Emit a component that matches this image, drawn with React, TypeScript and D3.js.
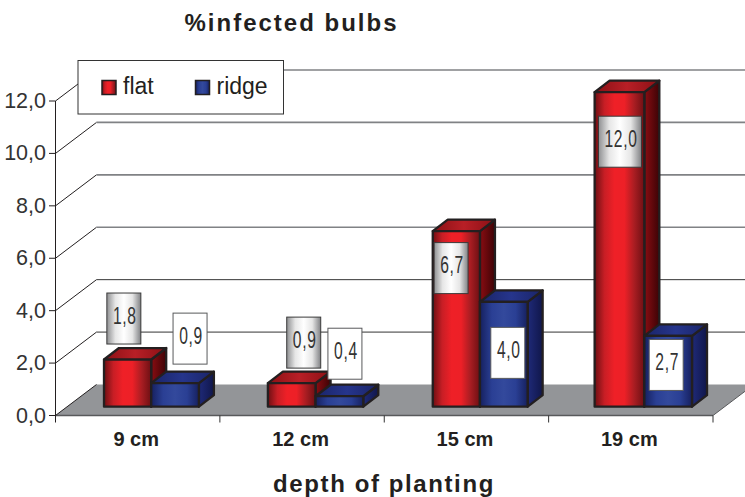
import React from "react";
import * as d3 from "d3";

const categories = ["9 cm", "12 cm", "15 cm", "19 cm"];
const seriesNames = ["flat", "ridge"];
const flat = [1.8, 0.9, 6.7, 12.0];
const ridge = [0.9, 0.4, 4.0, 2.7];
const yTicks = [0, 2, 4, 6, 8, 10, 12];

const flatLabelOffset = [[-3.5, -41], [12, -40.5], [-5, 37], [-0.5, 49.5]];
const ridgeLabelOffset = [[15, -44.5], [5.5, -42.5], [4, 51], [-2, 29]];
const flatNudge = [0.5, 0, 0.5, -2];

const fmt = (v: number) => v.toFixed(1).replace(".", ",");
const SANS = "'Liberation Sans', Arial, sans-serif";
const INK = "#231f20";

const y = d3.scaleLinear().domain([0, 12]).range([415.5, 101]);
const x = d3.scaleBand<string>().domain(categories).range([55.5, 713]);
const depth = { dx: 41, dy: -31 };
const bar = { dx: 15, dy: -11.5, base: -8.8, inset: 48, width: 47.7 };
const line = d3.line();
const pts = (p: [number, number][]) => line(p) + "Z";

function Stops({ c }: { c: string[] }) {
  return (
    <>
      {c.map((col, i) => (
        <stop key={i} offset={i / (c.length - 1)} stopColor={col} />
      ))}
    </>
  );
}

function Bar3D({ x0, x1, v, kind }: { x0: number; x1: number; v: number; kind: string }) {
  const top = y(v) + bar.base;
  const bot = y(0) + bar.base;
  const { dx, dy } = bar;
  return (
    <g stroke={INK} strokeWidth={2.3} strokeLinejoin="round">
      <path d={pts([[x1, top], [x1 + dx, top + dy], [x1 + dx, bot + dy], [x1, bot]])} fill={`url(#${kind}Side)`} />
      <path d={pts([[x0, top], [x0 + dx, top + dy], [x1 + dx, top + dy], [x1, top]])} fill={`url(#${kind}Top)`} />
      <rect x={x0} y={top} width={x1 - x0} height={bot - top} fill={`url(#${kind}Front)`} />
    </g>
  );
}

function ValueLabel({ cx, cy, v, kind }: { cx: number; cy: number; v: number; kind: string }) {
  const w = v >= 10 ? 43 : 34;
  return (
    <g>
      <rect
        x={cx - w / 2}
        y={cy - 25.5}
        width={w}
        height={51}
        fill={kind === "flat" ? "url(#labelMetal)" : "#fff"}
        stroke={kind === "flat" ? "#3a3a3a" : "#58595b"}
        strokeWidth={1}
      />
      <text
        transform={`translate(${cx + 1},${cy + 5}) scale(0.68,1)`}
        textAnchor="middle"
        fontFamily={SANS}
        fontSize={23}
        letterSpacing={1}
        fill="#333"
      >
        {fmt(v)}
      </text>
    </g>
  );
}

export default function App() {
  const inner = d3.scaleBand<string>().domain(seriesNames).range([bar.inset, bar.inset + bar.width * 2]);
  return (
    <svg
      width={745}
      height={497}
      viewBox="0 0 745 497"
      style={{ position: "absolute", left: 0, top: 0, background: "#fff" }}
    >
      <defs>
        <linearGradient id="flatFront">
          <Stops c={["#6d0f13", "#c81e25", "#ef2027", "#ed2027", "#a81d22", "#6d0f13"]} />
        </linearGradient>
        <linearGradient id="ridgeFront">
          <Stops c={["#16205f", "#2a3f94", "#33499c", "#2a3f94", "#16205f"]} />
        </linearGradient>
        <linearGradient id="flatSide">
          <Stops c={["#8a0d12", "#3d0306"]} />
        </linearGradient>
        <linearGradient id="ridgeSide">
          <Stops c={["#1f2a78", "#10164a"]} />
        </linearGradient>
        <linearGradient id="flatTop">
          <Stops c={["#8a1015", "#b81f26", "#8a1015"]} />
        </linearGradient>
        <linearGradient id="ridgeTop">
          <Stops c={["#1a2468", "#26358c", "#1a2468"]} />
        </linearGradient>
        <linearGradient id="labelMetal">
          <Stops c={["#8e8f91", "#e6e6e6", "#ffffff", "#e6e6e6", "#808184"]} />
        </linearGradient>
      </defs>

      <text x={291.5} y={30.5} textAnchor="middle" fontFamily={SANS} fontWeight="bold" fontSize={24} letterSpacing={2} fill={INK}>
        %infected bulbs
      </text>

      {/* floor */}
      <path
        d={pts([
          [55.5, y(0)],
          [55.5 + depth.dx, y(0) + depth.dy],
          [713 + depth.dx, y(0) + depth.dy],
          [713, y(0)],
        ])}
        fill="#939598"
      />
      <line x1={55.5} x2={713} y1={y(0)} y2={y(0)} stroke="#58595b" strokeWidth={1.5} />

      {/* gridlines on back wall and left wall */}
      {yTicks.map((t) => (
        <g key={t}>
          <line x1={55.5} y1={y(t)} x2={55.5 + depth.dx} y2={y(t) + depth.dy} stroke={INK} strokeWidth={1} />
          {t > 0 && (
            <line
              x1={55.5 + depth.dx}
              x2={745}
              y1={y(t) + depth.dy}
              y2={y(t) + depth.dy}
              stroke={t <= 4 ? "#333" : "#808285"}
              strokeWidth={t <= 4 ? 1 : 1.6}
            />
          )}
          <line x1={49} x2={55.5} y1={y(t)} y2={y(t)} stroke={INK} strokeWidth={1} />
          <text x={46} y={y(t) + 7} textAnchor="end" fontFamily={SANS} fontSize={21.5} fill="#333">
            {fmt(t)}
          </text>
        </g>
      ))}

      {/* axes */}
      <line x1={55.5} x2={55.5} y1={y(12)} y2={y(0) + 7} stroke={INK} strokeWidth={1} />
      {categories.map((c) => (
        <line
          key={c}
          x1={(x(c) as number) + x.bandwidth()}
          x2={(x(c) as number) + x.bandwidth()}
          y1={y(0)}
          y2={y(0) + 7}
          stroke="#333"
          strokeWidth={1}
        />
      ))}
      <path d={`M713,${y(0)}L754,${y(0) - 31}`} stroke="#58595b" fill="none" strokeWidth={1} />

      {/* bars */}
      {categories.map((c, i) => {
        const b = x(c) as number;
        const rx = b + (inner("ridge") as number);
        return (
          <g key={c}>
            <Bar3D x0={b + (inner("flat") as number) + flatNudge[i]} x1={rx} v={flat[i]} kind="flat" />
            <Bar3D x0={rx} x1={rx + bar.width} v={ridge[i]} kind="ridge" />
          </g>
        );
      })}

      {/* value labels */}
      {categories.map((c, i) => {
        const b = x(c) as number;
        const fx = b + (inner("flat") as number) + bar.width / 2;
        const rx = b + (inner("ridge") as number) + bar.width / 2;
        return (
          <g key={c}>
            <ValueLabel cx={fx + flatLabelOffset[i][0]} cy={y(flat[i]) + bar.base + flatLabelOffset[i][1]} v={flat[i]} kind="flat" />
            <ValueLabel cx={rx + ridgeLabelOffset[i][0]} cy={y(ridge[i]) + bar.base + ridgeLabelOffset[i][1]} v={ridge[i]} kind="ridge" />
          </g>
        );
      })}

      {/* category labels */}
      {categories.map((c) => (
        <text
          key={c}
          x={(x(c) as number) + x.bandwidth() / 2 - 1.5}
          y={446}
          textAnchor="middle"
          fontFamily={SANS}
          fontWeight="bold"
          fontSize={20}
          fill={INK}
        >
          {c}
        </text>
      ))}

      <text x={384} y={491.5} textAnchor="middle" fontFamily={SANS} fontWeight="bold" fontSize={24} letterSpacing={1.6} fill={INK}>
        depth of planting
      </text>

      {/* legend */}
      <rect x={78} y={60.5} width={205.5} height={53.5} fill="#fff" stroke="#333" strokeWidth={1} />
      {seriesNames.map((s, i) => {
        const lx = [102, 195.5][i];
        return (
          <g key={s}>
            <rect x={lx} y={80.5} width={14} height={14} fill={s === "flat" ? "url(#flatFront)" : "url(#ridgeFront)"} stroke={INK} strokeWidth={1.5} />
            <text x={lx + 21} y={94} fontFamily={SANS} fontSize={23} fill={INK}>
              {s}
            </text>
          </g>
        );
      })}
    </svg>
  );
}
